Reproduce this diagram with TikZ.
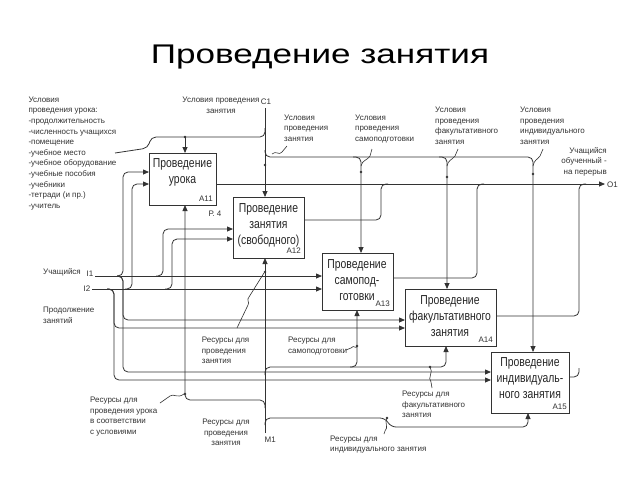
\documentclass[tikz,border=0pt]{standalone}
\usepackage{fontspec}
\setmainfont{Liberation Sans}
\usepackage{graphicx}
\usetikzlibrary{arrows.meta}
\definecolor{lc}{HTML}{333333}
\definecolor{tc}{HTML}{333333}
\newcommand{\mybtx}[1]{\scalebox{0.8}[1]{\begin{tabular}{@{}c@{}}#1\end{tabular}}}
\begin{document}
\begin{tikzpicture}[x=1pt,y=-1pt,
  ln/.style={draw=lc, line width=0.8pt},
  arr/.style={ln, -{Triangle[length=6pt,width=5pt]}},
  rc/.style={rounded corners=5pt},
  lead/.style={draw=lc, line width=0.6pt},
  dot/.style={circle, fill=lc, inner sep=0pt, minimum size=2.8pt},
  box/.style={draw=lc, line width=0.9pt, inner sep=0pt, outer sep=0pt},
  btext/.style={font=\fontsize{13}{16}\selectfont, inner sep=0pt, text=black!85},
  idlab/.style={font=\fontsize{8}{9}\selectfont, inner sep=0pt, text=tc},
  lab/.style={font=\fontsize{8}{10.6}\selectfont, text=tc, inner sep=0pt, align=left},
  labc/.style={lab, align=center}]
\useasboundingbox[fill=white] (0,0) rectangle (640,480);

% title
\node[font=\fontsize{27}{30}\selectfont, anchor=base, inner sep=0pt] (title) at (320,63.3) {\scalebox{1.3}[1]{Проведение занятия}};

% boxes
\node[box, minimum width=67pt, minimum height=52pt] (a11) at (182.5,179) {};
\node[box, minimum width=71pt, minimum height=61pt] (a12) at (268.5,227.5) {};
\node[box, minimum width=71pt, minimum height=57pt] (a13) at (357.5,281.5) {};
\node[box, minimum width=91pt, minimum height=57pt] (a14) at (450.5,317.5) {};
\node[box, minimum width=78pt, minimum height=61pt] (a15) at (530,382.5) {};

\node[btext] (a11t) at (182.5,172.5) {\mybtx{Проведение\\урока}};
\node[btext] (a12t) at (268.5,225) {\mybtx{Проведение\\занятия\\(свободного)}};
\node[btext] (a13t) at (357,281) {\mybtx{Проведение\\самопод-\\готовки}};
\node[btext] (a14t) at (450,317) {\mybtx{Проведение\\факультативного\\занятия}};
\node[btext] (a15t) at (530,379) {\mybtx{Проведение\\индивидуаль-\\ного занятия}};

\node[idlab, anchor=base east] (a11id) at ([xshift=-3pt,yshift=4pt]a11.south east) {A11};
\node[idlab, anchor=base east] (a12id) at ([xshift=-3pt,yshift=5pt]a12.south east) {A12};
\node[idlab, anchor=base east] (a13id) at ([xshift=-3pt,yshift=4pt]a13.south east) {A13};
\node[idlab, anchor=base east] (a14id) at ([xshift=-3pt,yshift=4pt]a14.south east) {A14};
\node[idlab, anchor=base east] (a15id) at ([xshift=-2pt,yshift=4pt]a15.south east) {A15};

% ---------- inputs ----------
\coordinate (i1) at (95,276);
\coordinate (i2) at (92,289);
\draw[arr] (i1) -- (a13.west |- i1);
\draw[arr] (i2) -- (a13.west |- i2);
\draw[arr,rc] (117,276) -- (123,276) -- (123,172) -- (a11.west |- 0,172);
\draw[arr,rc] (125,289) -- (132,289) -- (132,184) -- (a11.west |- 0,184);
\draw[arr,rc] (156,276) -- (163,276) -- (163,229) -- (a12.west |- 0,229);
\draw[arr,rc] (165,289) -- (172,289) -- (172,239) -- (a12.west |- 0,239);
\draw[arr,rc] (117,276) -- (123,276) -- (123,320) -- (a14.west |- 0,320);
\draw[arr,rc] (117,276) -- (123,276) -- (123,372) -- (a15.west |- 0,372);
\draw[arr,rc] (107,289) -- (114,289) -- (114,328) -- (a14.west |- 0,328);
\draw[arr,rc] (107,289) -- (114,289) -- (114,380) -- (a15.west |- 0,380);

% ---------- controls ----------
\coordinate (c1) at (265,108);
\draw[arr] (c1) -- (c1 |- a12.north);
\draw[ln,rc] (265,128) -- (265,137) -- (151,137) -- (148,148) -- (115,153);
\coordinate (j11) at (185,137);
\draw[arr] (j11) -- (j11 |- a11.north);
\node[dot] (d11) at (j11) {};
\draw[arr,rc] (265,150) -- (265,157) -- (533,157) -- (a15.north -| 533,0);
\draw[arr,rc] (353,157) -- (361,157) -- (a13.north -| 361,0);
\draw[arr,rc] (439,157) -- (447,157) -- (a14.north -| 447,0);
\node[dot] (d12) at (265,165) {};
\node[dot] (d13) at (361,172) {};
\node[dot] (d14) at (447,177) {};
\node[dot] (d15) at (533,174) {};
% leaders
\draw[lead] (287,146) -- (282,152) .. controls (279,156) and (276,150) .. (272,154);
\draw[lead] (372,149) -- (370,156) .. controls (368,160) and (362,160) .. (361,166);
\draw[lead] (458,149) -- (455,156) .. controls (452,160) and (448,160) .. (447,166);
\draw[lead] (543,149) -- (540,156) .. controls (537,160) and (534,160) .. (533,166);

% ---------- outputs ----------
\coordinate (o1) at (605,184);
\draw[arr] (a11.east |- 0,184) -- (o1);
\draw[ln,rc] (a12.east |- 0,220) -- (381,220) -- (381,184) -- (388,184);
\draw[ln,rc] (a13.east |- 0,278) -- (477,278) -- (477,184) -- (484,184);
\draw[ln,rc] (a14.east |- 0,316) -- (579,316) -- (579,184) -- (586,184);
\draw[ln,rc] (a15.east |- 0,377) -- (579,377) -- (579,368);

% ---------- mechanisms ----------
\coordinate (m1) at (265,433);
\draw[arr] (m1) -- (m1 |- a12.south);
\draw[arr,rc] (265,408) -- (265,400) -- (185,400) -- (a11.south -| 185,0);
\node[dot] (dm11) at (185,394) {};
\draw[lead] (160,403) -- (170,396) .. controls (174,393) and (177,399) .. (184,394);
\node[dot] (dm12) at (265,272) {};
\draw[lead] (237,328) -- (248,305) .. controls (250,302) and (246,300) .. (249,297) -- (264,273);
\draw[arr,rc] (265,375) -- (265,367) -- (446,367) -- (a14.south -| 446,0);
\draw[arr,rc] (350,367) -- (357,367) -- (a13.south -| 357,0);
\node[dot] (dm13) at (357,346) {};
\draw[lead] (346,350) -- (351,348) .. controls (354,344) and (356,350) .. (357,346);
\node[dot] (dm14) at (430,367) {};
\draw[lead] (430,367) .. controls (434,372) and (427,378) .. (431,382) -- (432,388);
\draw[arr,rc] (265,425) -- (265,418) -- (385,418) -- (391,427) -- (528,427) -- (a15.south -| 528,0);
\node[dot] (dm15) at (387,418) {};
\draw[lead] (387,418) .. controls (384,423) and (389,427) .. (385,431) -- (384,434);

% ---------- labels ----------
\node[lab, anchor=north west] (ltxt) at (28.3,96.5) {Условия\\проведения урока:\\-продолжительность\\-численность учащихся\\-помещение\\-учебное место\\-учебное оборудование\\-учебные пособия\\-учебники\\-тетради (и пр.)\\-учитель};
\node[labc, anchor=north] (c1t) at (221,97) {Условия проведения\\занятия};
\node[lab, anchor=north] (c1n) at (266,98.5) {C1};
\node[lab, anchor=north west] (l12) at (284,114.3) {Условия\\проведения\\занятия};
\node[lab, anchor=north west] (l13) at (355,114.3) {Условия\\проведения\\самоподготовки};
\node[lab, anchor=north west] (l14) at (435,107) {Условия\\проведения\\факультативного\\занятия};
\node[lab, anchor=north west] (l15) at (520,107) {Условия\\проведения\\индивидуального\\занятия};
\node[lab, align=right, anchor=north east] (lo) at (607,147) {Учащийся\\обученный -\\на перерыв};
\node[lab, anchor=north] (p4) at (215,211) {Р. 4};
\node[lab, anchor=west] (o1t) at (607,185) {O1};
\node[lab, anchor=east] (li1) at (81,272) {Учащийся};
\node[lab, anchor=west] (i1t) at (86.5,274) {I1};
\node[lab, anchor=west] (i2t) at (83.5,289) {I2};
\node[lab, anchor=north west] (lpr) at (43,307) {Продолжение\\занятий};
\node[lab, anchor=north west] (rm12) at (201.7,337) {Ресурсы для\\проведения\\занятия};
\node[lab, anchor=north west] (rm13) at (288,337) {Ресурсы для\\самоподготовки};
\node[lab, anchor=north west] (rm11) at (90,397) {Ресурсы для\\проведения урока\\в соответствии\\с условиями};
\node[labc, anchor=north] (rm1) at (226,418.7) {Ресурсы для\\проведения\\занятия};
\node[lab, anchor=west] (m1t) at (264.5,440) {M1};
\node[lab, anchor=north west] (rm14) at (402,391) {Ресурсы для\\факультативного\\занятия};
\node[lab, anchor=north west] (rm15) at (330,435.3) {Ресурсы для\\индивидуального занятия};
\end{tikzpicture}
\end{document}
